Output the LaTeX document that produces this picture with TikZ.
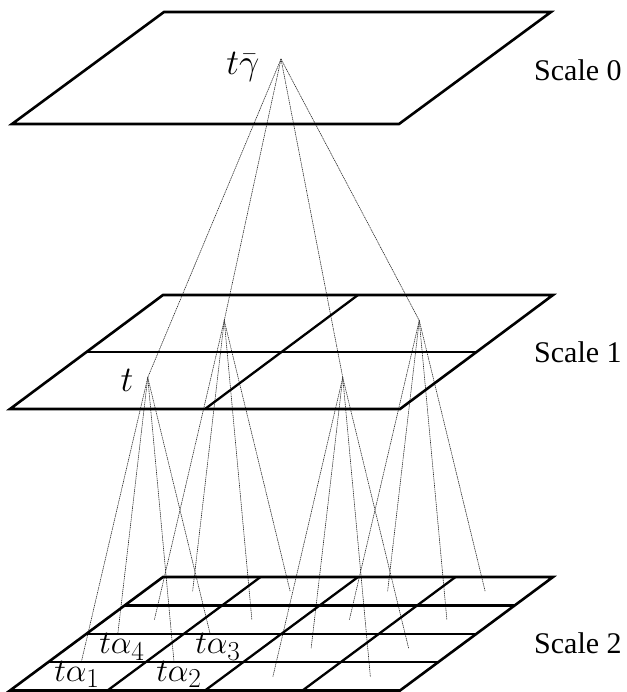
\documentclass[tikz,border=0pt]{standalone}
\usepackage{fontspec}
\setmainfont{Liberation Serif}
\begin{document}
\begin{tikzpicture}[x=1pt,y=-1pt,
  plane/.style={line width=2.6pt, line join=miter},
  gridln/.style={line width=2.3pt},
  ray/.style={draw=black!85, line width=0.6pt, dash pattern=on 1.2pt off 0.7pt},
  scalelbl/.style={anchor=west, font=\fontsize{30}{32}\selectfont, inner sep=0pt},
  mlbl/.style={inner sep=0pt, font=\Huge, scale=1.45},
  albl/.style={inner sep=0.4pt, fill=white, font=\Huge, scale=1.32}]
\useasboundingbox (0,0) rectangle (626,692);

% points
\coordinate (apex) at (281,59);
\foreach \i in {0,1}{\foreach \j in {0,1}{
  \coordinate (s1-\i-\j) at ({10+195*(\i+0.5)+76.5*(\j+0.5)+2},{409-57*(\j+0.5)-3});
}}
\foreach \i in {0,...,3}{\foreach \j in {0,...,3}{
  \coordinate (s2-\i-\j) at ({10+97.5*(\i+0.5)+38.25*(\j+0.5)},{691-28.5*(\j+0.5)});
}}

% rays
\foreach \i in {0,1}{\foreach \j in {0,1}{
  \draw[ray] (apex) -- (s1-\i-\j);
  \foreach \a in {0,1}{\foreach \b in {0,1}{
    \pgfmathtruncatemacro{\ci}{2*\i+\a}
    \pgfmathtruncatemacro{\cj}{2*\j+\b}
    \draw[ray] (s1-\i-\j) -- (s2-\ci-\cj);
  }}
}}

% labels
\node[mlbl] (lg) at (243,67) {$t\bar\gamma$};
\node[mlbl] (lt) at (127,380) {$t$};
\node[albl] (la1) at (77,674.5) {$t\alpha_1$};
\node[albl] (la2) at (179,674.5) {$t\alpha_2$};
\node[albl] (la4) at (122,647) {$t\alpha_4$};
\node[albl] (la3) at (218,647) {$t\alpha_3$};

% planes
\draw[plane] (12,124) -- (399,124) -- (551,12) -- (164,12) -- cycle;
\draw[plane] (10,409) -- (400,409) -- (553,295) -- (163,295) -- cycle;
\draw[gridln] (205,409) -- (358,295);
\draw[gridln] (86.5,352) -- (476.5,352);
\draw[plane] (10,690.5) -- (400,690.5) -- (553,577) -- (163,577) -- cycle;
\foreach \k in {1,2,3}{
  \draw[gridln] ({10+97.5*\k},690.5) -- ++(153,-113.5);
  \draw[gridln] ({10+38.25*\k},{690.5-28.375*\k}) -- ++(390,0);
}

\node[scalelbl] (sc0) at (534,70) {Scale 0};
\node[scalelbl] (sc1) at (534,352) {Scale 1};
\node[scalelbl] (sc2) at (534,643) {Scale 2};
\end{tikzpicture}
\end{document}
